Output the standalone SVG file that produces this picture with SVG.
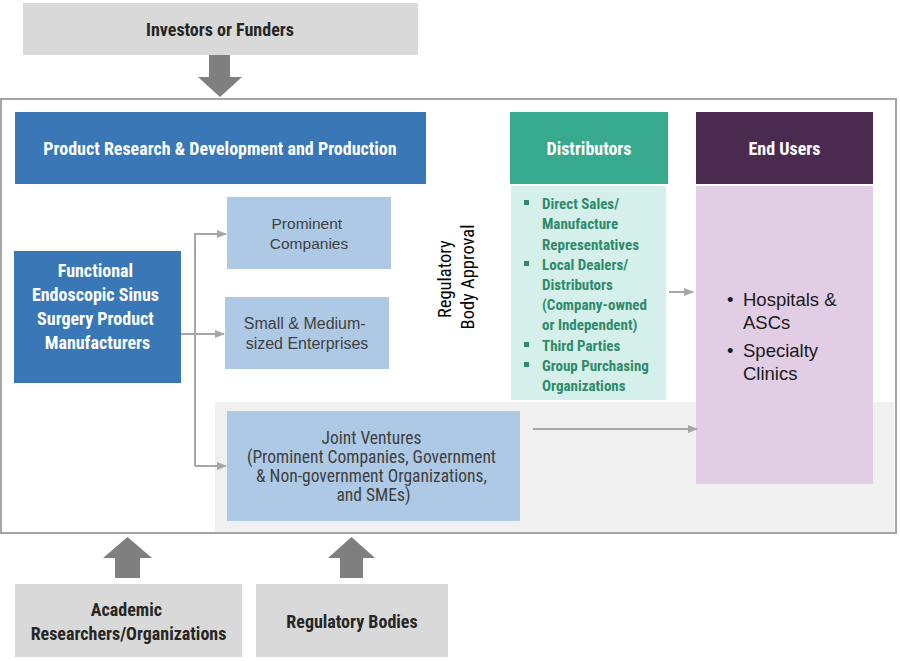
<svg xmlns="http://www.w3.org/2000/svg" width="900" height="661" viewBox="0 0 900 661">
<defs>
<marker id="ah" markerWidth="10" markerHeight="8" refX="9" refY="4" orient="auto" markerUnits="userSpaceOnUse">
<path d="M0,0 L10,4 L0,8 Z" fill="#a6a6a6"/>
</marker>
<style>
.cb{font-family:"Liberation Sans Narrow","Roboto Condensed","Liberation Sans",sans-serif;font-weight:bold;}
.cr{font-family:"Liberation Sans Narrow","Roboto Condensed","Liberation Sans",sans-serif;}
.rg{font-family:"Liberation Sans",Arial,sans-serif;}
.w{fill:#ffffff;}
.g{fill:#262626;}
.lb{fill:#adc9e6;}
.blue{fill:#3a77b7;}
.gray{fill:#d9d9d9;}
.conn{stroke:#a6a6a6;stroke-width:2;fill:none;}
.big{fill:#7f7f7f;}
.dt{fill:#2f8a6c;font-size:15px;}
</style>
</defs>
<rect x="0" y="0" width="900" height="661" fill="#ffffff"/>
<g id="background">
<rect x="215" y="402" width="679" height="130" fill="#f0f0f0"/>
<rect x="1" y="99" width="895" height="434" fill="none" stroke="#a6a6a6" stroke-width="2"/>
</g>
<g id="investors">
<rect x="23" y="3" width="395" height="52" class="gray"/>
<text x="220" y="36" text-anchor="middle" class="cb g" font-size="18">Investors or Funders</text>
</g>
<g id="big-arrows">
<path d="M209,55 H230 V77 H242 L220,97 L198,77 H209 Z" class="big"/>
<path d="M115,578 V558 H103 L127.5,537 L152,558 H140 V578 Z" class="big"/>
<path d="M340,578 V558 H328 L351.5,537 L375,558 H363 V578 Z" class="big"/>
</g>
<g id="prd">
<rect x="15" y="112" width="411" height="72" class="blue"/>
<text x="220" y="155" text-anchor="middle" class="cb w" font-size="18">Product Research &amp; Development and Production</text>
</g>
<g id="manufacturers">
<rect x="14" y="251" width="167" height="132" class="blue"/>
<text text-anchor="middle" class="cb w" font-size="18">
<tspan x="97.5" y="277">Functional</tspan>
<tspan x="97.5" y="301">Endoscopic Sinus</tspan>
<tspan x="97.5" y="325">Surgery Product</tspan>
<tspan x="97.5" y="349">Manufacturers</tspan>
</text>
</g>
<g id="prominent">
<rect x="227" y="197" width="164" height="72" class="lb"/>
<text text-anchor="middle" class="rg" fill="#404040" font-size="15.5">
<tspan x="309" y="229">Prominent</tspan>
<tspan x="309" y="249">Companies</tspan>
</text>
</g>
<g id="sme">
<rect x="225" y="297" width="164" height="72" class="lb"/>
<text text-anchor="middle" class="rg" fill="#404040" font-size="16">
<tspan x="307" y="329">Small &amp; Medium-</tspan>
<tspan x="307" y="349">sized Enterprises</tspan>
</text>
</g>
<g id="jv">
<rect x="227" y="411" width="293" height="110" class="lb"/>
<text text-anchor="middle" class="cr" fill="#404040" font-size="17.5">
<tspan x="373.5" y="444">Joint Ventures</tspan>
<tspan x="373.5" y="463">(Prominent Companies, Government</tspan>
<tspan x="373.5" y="482">&amp; Non-government Organizations,</tspan>
<tspan x="373.5" y="501">and SMEs)</tspan>
</text>
</g>
<g id="regulatory-approval">
<text transform="translate(457,277) rotate(-90)" text-anchor="middle" class="cr" fill="#000000" font-size="18.5">
<tspan x="0" y="-6">Regulatory</tspan>
<tspan x="0" y="17">Body Approval</tspan>
</text>
</g>
<g id="distributors">
<rect x="510" y="112" width="158" height="72" fill="#37a98f"/>
<text x="589" y="155" text-anchor="middle" class="cb w" font-size="18">Distributors</text>
<rect x="511" y="186" width="155" height="214" fill="#d5f0ea"/>
<g fill="#2f8a6c">
<rect x="524" y="200" width="5" height="5"/>
<rect x="524" y="261" width="5" height="5"/>
<rect x="524" y="342" width="5" height="5"/>
<rect x="524" y="362" width="5" height="5"/>
</g>
<text class="cb dt">
<tspan x="542" y="209">Direct Sales/</tspan>
<tspan x="542" y="229">Manufacture</tspan>
<tspan x="542" y="250">Representatives</tspan>
<tspan x="542" y="270">Local Dealers/</tspan>
<tspan x="542" y="290">Distributors</tspan>
<tspan x="542" y="310">(Company-owned</tspan>
<tspan x="542" y="330">or Independent)</tspan>
<tspan x="542" y="351">Third Parties</tspan>
<tspan x="542" y="371">Group Purchasing</tspan>
<tspan x="542" y="391">Organizations</tspan>
</text>
</g>
<g id="end-users">
<rect x="696" y="112" width="177" height="72" fill="#4a2b4f"/>
<text x="784.5" y="155" text-anchor="middle" class="cb w" font-size="18">End Users</text>
<rect x="696" y="186" width="177" height="298" fill="#e1cde4"/>
<text class="rg" fill="#1a1a1a" font-size="18.5">
<tspan x="727" y="306">•</tspan>
<tspan x="743" y="306">Hospitals &amp;</tspan>
<tspan x="743" y="329">ASCs</tspan>
<tspan x="727" y="357">•</tspan>
<tspan x="743" y="357">Specialty</tspan>
<tspan x="743" y="380">Clinics</tspan>
</text>
</g>
<g id="academic">
<rect x="15" y="584" width="227" height="73" class="gray"/>
<text text-anchor="middle" class="cb g" font-size="18">
<tspan x="128.5" y="616">Academic</tspan>
<tspan x="128.5" y="640">Researchers/Organizations</tspan>
</text>
</g>
<g id="regulatory-bodies">
<rect x="256" y="584" width="192" height="73" class="gray"/>
<text x="352" y="628" text-anchor="middle" class="cb g" font-size="18">Regulatory Bodies</text>
</g>
<g id="connectors">
<path d="M195,466 V234 H226" class="conn" marker-end="url(#ah)"/>
<path d="M181,334 H224" class="conn" marker-end="url(#ah)"/>
<path d="M195,466 H226" class="conn" marker-end="url(#ah)"/>
<path d="M669,292 H693" class="conn" marker-end="url(#ah)"/>
<path d="M533,429 H697" class="conn" marker-end="url(#ah)"/>
</g>
</svg>
